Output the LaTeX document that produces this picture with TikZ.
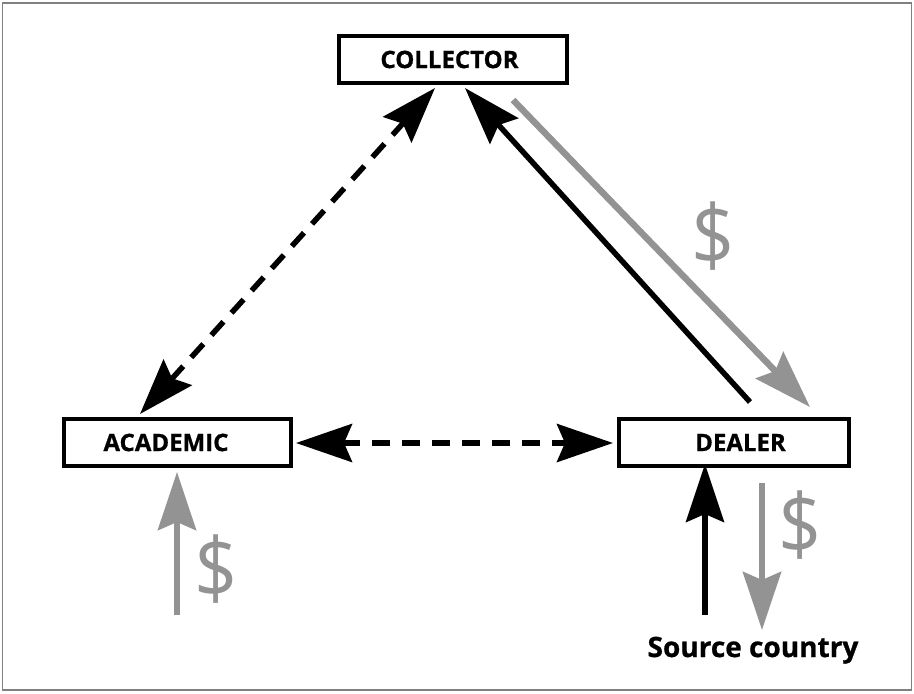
\documentclass[tikz,border=0pt]{standalone}
\usepackage{fontspec}
\setmainfont{Open Sans}[BoldFeatures={FakeBold=0.8}]
\usetikzlibrary{arrows.meta}
\definecolor{mgray}{HTML}{939393}
\tikzset{
  box/.style={draw, line width=3.6pt, minimum width=#1, minimum height=47.5pt, inner sep=0pt, font=\bfseries\fontsize{24}{28}\selectfont},
  tip/.style={-{Stealth[length=58pt,width=38pt,inset=8pt]}},
  dtip/.style={{Stealth[length=56pt,width=38pt,inset=8pt]}-{Stealth[length=56pt,width=38pt,inset=8pt]}},
  blackline/.style={line width=5.5pt, black},
  grayline/.style={line width=6.5pt, mgray},
  dashline/.style={line width=5.5pt, black, dash pattern=on 18pt off 12pt},
  dollar/.style={text=mgray, font=\fontsize{84}{90}\selectfont, inner sep=0pt, xscale=0.9}
}
\begin{document}
\begin{tikzpicture}[x=1pt,y=-1pt]
\useasboundingbox (0,0) rectangle (914,694);
\draw[line width=1.2pt, gray] (2.5,3) rectangle (911.5,690);
\node[box=228pt] (col) at (453,59.5) {\hspace*{-7pt}COLLECTOR};
\node[box=227pt] (aca) at (177.5,442.5) {\hspace*{-23pt}ACADEMIC};
\node[box=230pt] (dea) at (734,442.5) {\hspace*{13pt}DEALER};
\node[font=\bfseries\fontsize{28}{32}\selectfont, inner sep=0pt, anchor=base] (src) at (753,657) {Source country};
\coordinate (acaend) at (140,414);
\coordinate (colA) at (435,88);
\draw[dashline, dtip] (acaend) -- (colA);
\coordinate (aR) at (296,443);
\coordinate (dL) at (613,443);
\draw[dashline, dtip] (aR) -- (dL);
\coordinate (dB) at (750,402);
\coordinate (cB) at (465,88);
\draw[blackline, tip] (dB) -- (cB);
\coordinate (cG) at (513,100);
\coordinate (dG) at (810,407);
\draw[grayline, tip] (cG) -- (dG);
\node[dollar] (d1) at (713,236) {\$};
\coordinate (aS) at (177,615);
\coordinate (aT) at (177,472);
\draw[grayline, tip] (aS) -- (aT);
\node[dollar] (d2) at (216,569) {\$};
\coordinate (sS) at (705,615);
\coordinate (sT) at (705,464);
\draw[blackline, tip] (sS) -- (sT);
\coordinate (gS) at (762,483);
\coordinate (gT) at (762,630);
\draw[grayline, tip] (gS) -- (gT);
\node[dollar] (d3) at (800,525) {\$};
\end{tikzpicture}
\end{document}
